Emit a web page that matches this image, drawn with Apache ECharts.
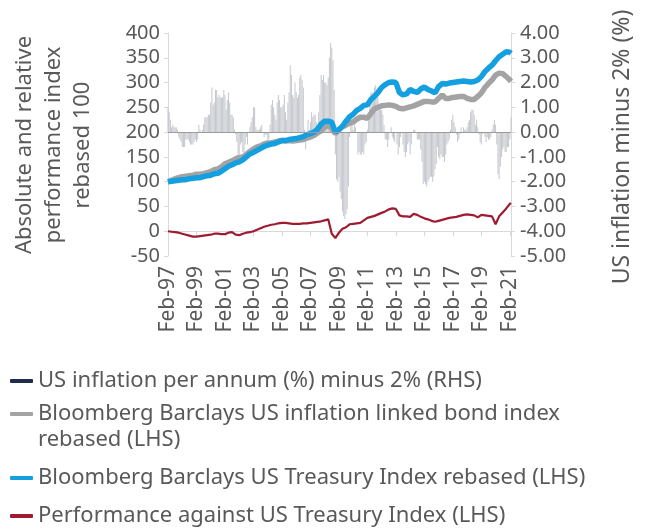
<!DOCTYPE html>
<html>
<head>
<meta charset="utf-8">
<script src="https://cdn.jsdelivr.net/npm/echarts@6/dist/echarts.min.js"></script>
<style>
  html, body { margin: 0; padding: 0; background: #fff; }
  #chart { width: 646px; height: 529px; }
</style>
</head>
<body>
<div id="chart"></div>
<script>
// month labels, Feb-97 .. Mar-21
const monthNames = ['Jan','Feb','Mar','Apr','May','Jun','Jul','Aug','Sep','Oct','Nov','Dec'];
const months = [];
for (let i = 0; i < 290; i++) {
  const k = i + 1;
  months.push(monthNames[k % 12] + '-' + String(1997 + Math.floor(k / 12)).slice(2));
}

// US CPI y/y minus 2%, monthly (RHS)
const inflationMinus2 = [
  1.0, 0.8, 0.5, 0.2, 0.3, 0.2, 0.2, 0.2, 0.1, -0.2, -0.3,                // 1997 Feb-Dec
  -0.4, -0.6, -0.6, -0.6, -0.3, -0.3, -0.3, -0.4, -0.5, -0.5, -0.5, -0.4, // 1998
  -0.3, -0.4, -0.3, 0.3, 0.1, 0.0, 0.1, 0.3, 0.6, 0.6, 0.6, 0.7,          // 1999
  0.7, 1.2, 1.8, 1.1, 1.2, 1.7, 1.7, 1.4, 1.5, 1.4, 1.4, 1.4,             // 2000
  1.7, 1.5, 0.9, 1.3, 1.6, 1.2, 0.7, 0.7, 0.6, 0.1, -0.1, -0.4,           // 2001
  -0.9, -0.9, -0.5, -0.4, -0.8, -0.9, -0.5, -0.2, -0.5, 0.0, 0.2, 0.4,    // 2002
  0.6, 1.0, 1.0, 0.2, 0.1, 0.1, 0.1, 0.2, 0.3, 0.0, -0.2, -0.1,           // 2003
  -0.1, -0.3, -0.3, 0.3, 1.1, 1.3, 1.0, 0.7, 0.5, 1.2, 1.5, 1.3,          // 2004
  1.0, 1.0, 1.1, 1.5, 0.8, 0.5, 1.2, 1.6, 2.7, 2.3, 1.5, 1.4,             // 2005
  2.0, 1.6, 1.4, 1.5, 2.2, 2.3, 2.1, 1.8, 0.1, -0.7, 0.0, 0.5,            // 2006
  0.1, 0.4, 0.8, 0.6, 0.7, 0.7, 0.4, 0.0, 0.8, 1.5, 2.3, 2.1,             // 2007
  2.3, 2.0, 2.0, 1.9, 2.2, 3.0, 3.6, 3.4, 2.9, 1.7, -0.9, -1.9,           // 2008
  -2.0, -1.8, -2.4, -2.7, -3.2, -3.4, -3.5, -3.3, -3.1, -2.2, -0.2, 0.7,  // 2009
  0.6, 0.1, 0.3, 0.2, 0.0, -0.9, -0.8, -0.9, -0.9, -0.8, -0.9, -0.5,      // 2010
  -0.4, 0.1, 0.7, 1.2, 1.6, 1.6, 1.6, 1.8, 1.9, 1.5, 1.4, 1.0,            // 2011
  0.9, 0.9, 0.7, 0.3, -0.3, -0.3, -0.6, -0.3, 0.0, 0.2, -0.2, -0.3,       // 2012
  -0.4, 0.0, -0.5, -0.9, -0.6, -0.2, 0.0, -0.5, -0.8, -1.0, -0.8, -0.5,   // 2013
  -0.4, -0.9, -0.5, 0.0, 0.1, 0.1, 0.0, -0.3, -0.3, -0.3, -0.7, -1.2,     // 2014
  -2.1, -2.0, -2.1, -2.2, -2.0, -1.9, -1.8, -1.8, -2.0, -1.8, -1.5, -1.3, // 2015
  -0.6, -1.0, -1.1, -0.9, -1.0, -1.0, -1.2, -0.9, -0.5, -0.4, -0.3, 0.1,  // 2016
  0.5, 0.7, 0.4, 0.2, -0.1, -0.4, -0.3, -0.1, 0.2, 0.0, 0.2, 0.1,         // 2017
  0.1, 0.2, 0.4, 0.5, 0.8, 0.9, 0.9, 0.7, 0.3, 0.5, 0.2, -0.1,            // 2018
  -0.4, -0.5, -0.1, 0.0, -0.2, -0.4, -0.2, -0.3, -0.3, -0.2, 0.1, 0.3,    // 2019
  0.5, 0.3, -0.5, -1.7, -1.9, -1.4, -1.0, -0.7, -0.6, -0.8, -0.8, -0.6,   // 2020
  -0.6, -0.3, 0.6                                                         // 2021 Jan-Mar
];

// quarterly readings (Feb, May, Aug, Nov), last point Mar-21 (LHS)
const linkerIndex = [
  100, 103, 106, 108, 110, 111, 112, 113, 115, 115, 116, 118,
  120, 124, 126, 130, 136, 139, 142, 146, 149, 150, 155, 161,
  166, 170, 172, 176, 178, 178, 180, 182, 183, 182, 183, 182,
  183, 184, 185, 188, 190, 193, 198, 203, 210, 214, 207, 197,
  205, 211, 214, 218, 220, 226, 230, 230, 228, 238, 247, 250,
  253, 254, 255, 254, 252, 248, 247, 249, 251, 253, 256, 259,
  262, 262, 261, 261, 268, 275, 268, 268, 270, 271, 272, 272,
  268, 266, 266, 272, 279, 290, 298, 305, 315, 319, 318, 312,
  305, 302
];
const treasuryIndex = [
  100, 101, 102, 103, 104, 104, 106, 107, 108, 108, 110, 112,
  113, 116, 117, 121, 126, 131, 134, 138, 140, 144, 150, 156,
  159, 163, 167, 171, 174, 176, 177, 180, 183, 183, 185, 186,
  187, 189, 191, 195, 197, 200, 206, 216, 222, 222, 220, 200,
  205, 212, 222, 231, 236, 244, 248, 254, 255, 266, 272, 280,
  290, 296, 300, 301, 300, 280, 275, 277, 286, 282, 280, 287,
  291, 286, 283, 279, 292, 298, 297, 299, 300, 301, 302, 303,
  302, 301, 302, 305, 312, 322, 329, 335, 344, 352, 357, 362,
  361, 359
];
const relPerformance = [
  0, -1, -2, -3, -5, -7, -9, -11, -11, -10, -9, -8,
  -7, -5, -5, -6, -6, -3, -2, -7, -8, -5, -3, -2,
  0, 3, 6, 9, 11, 13, 14, 16, 17, 17, 16, 15,
  15, 15, 16, 16, 17, 18, 19, 20, 22, 24, -5, -14,
  -3, 5, 8, 14, 15, 16, 17, 22, 27, 29, 31, 34,
  37, 40, 44, 46, 45, 32, 30, 30, 29, 35, 33, 29,
  26, 24, 21, 19, 21, 23, 25, 27, 28, 29, 31, 33,
  34, 33, 32, 28, 33, 32, 31, 30, 14, 30, 38, 46,
  55, 57
];

const names = [
  'US inflation per annum (%) minus 2% (RHS)',
  'Bloomberg Barclays US inflation linked bond index rebased (LHS)',
  'Bloomberg Barclays US Treasury Index rebased (LHS)',
  'Performance against US Treasury Index (LHS)'
];

const FONT = 'Noto Sans';
const TXT = '#595959';
const AXIS = '#d9d9d9';

// quarterly point i sits on month 3*i (last one on the final month)
function onMonths(arr) {
  return arr.map((v, i) => [Math.min(i * 3, months.length - 1), v]);
}

function legendAt(top, idx, color, label) {
  return {
    left: 10, top: top, orient: 'vertical', padding: 0,
    icon: 'roundRect', itemWidth: 23, itemHeight: 4,
    textStyle: { fontFamily: FONT, fontSize: 22, color: TXT, lineHeight: 26 },
    formatter: label ? () => label : undefined,
    data: [{ name: names[idx], itemStyle: { color: color } }],
    selectedMode: false
  };
}

const chart = echarts.init(document.getElementById('chart'));
chart.setOption({
  animation: false,
  grid: { left: 168, right: 135, top: 33, bottom: 273 },
  legend: [
    legendAt(368, 0, '#1f2d4d'),
    legendAt(401, 1, '#a3a3a3', 'Bloomberg Barclays US inflation linked bond index'),
    legendAt(465, 2, '#14a0e0'),
    legendAt(503, 3, '#9e1b32')
  ],
  graphic: [
    {
      type: 'text', x: 54, y: 145, rotation: Math.PI / 2,
      style: {
        text: 'Absolute and relative\nperformance index\nrebased 100',
        fontFamily: FONT, fontSize: 22, lineHeight: 29, fill: TXT,
        align: 'center', verticalAlign: 'middle'
      }
    },
    {
      type: 'text', x: 622, y: 147, rotation: Math.PI / 2,
      style: {
        text: 'US inflation minus 2% (%)',
        fontFamily: FONT, fontSize: 23, fill: TXT,
        align: 'center', verticalAlign: 'middle'
      }
    },
    {
      type: 'text', left: 38, top: 429,
      style: { text: 'rebased (LHS)', fontFamily: FONT, fontSize: 22, fill: TXT }
    }
  ],
  xAxis: {
    type: 'category',
    data: months,
    boundaryGap: false,
    axisLine: { lineStyle: { color: AXIS } },
    axisTick: { interval: 23, length: 5, lineStyle: { color: AXIS } },
    axisLabel: { interval: 23, rotate: 90, margin: 10, color: TXT, fontFamily: FONT, fontSize: 21 }
  },
  yAxis: [
    {
      type: 'value', min: -50, max: 400, interval: 50,
      axisLine: { show: true, lineStyle: { color: AXIS } },
      axisTick: { show: true, length: 4, lineStyle: { color: AXIS } },
      axisLabel: { margin: 8, color: TXT, fontFamily: FONT, fontSize: 20 },
      splitLine: { show: false }
    },
    {
      type: 'value', min: -5, max: 4, interval: 1, position: 'right',
      axisLine: { show: true, lineStyle: { color: AXIS } },
      axisTick: { show: true, length: 4, lineStyle: { color: AXIS } },
      axisLabel: { margin: 9, color: TXT, fontFamily: FONT, fontSize: 20, formatter: v => v.toFixed(2) },
      splitLine: { show: false }
    }
  ],
  series: [
    {
      name: names[0], type: 'bar', yAxisIndex: 1,
      data: inflationMinus2, barWidth: 1,
      itemStyle: { color: '#c4c7cd' },
      markLine: {
        silent: true, symbol: 'none', label: { show: false },
        lineStyle: { color: '#9a9a9a', width: 1, type: 'solid' },
        data: [{ yAxis: 0 }]
      }
    },
    {
      name: names[1], type: 'line', data: onMonths(linkerIndex),
      showSymbol: false, color: '#a3a3a3', lineStyle: { width: 5.5, color: '#a3a3a3' }
    },
    {
      name: names[2], type: 'line', data: onMonths(treasuryIndex),
      showSymbol: false, color: '#14a0e0', lineStyle: { width: 5.5, color: '#14a0e0' }
    },
    {
      name: names[3], type: 'line', data: onMonths(relPerformance),
      showSymbol: false, color: '#9e1b32', lineStyle: { width: 2.2, color: '#9e1b32' }
    }
  ]
});
</script>
</body>
</html>
